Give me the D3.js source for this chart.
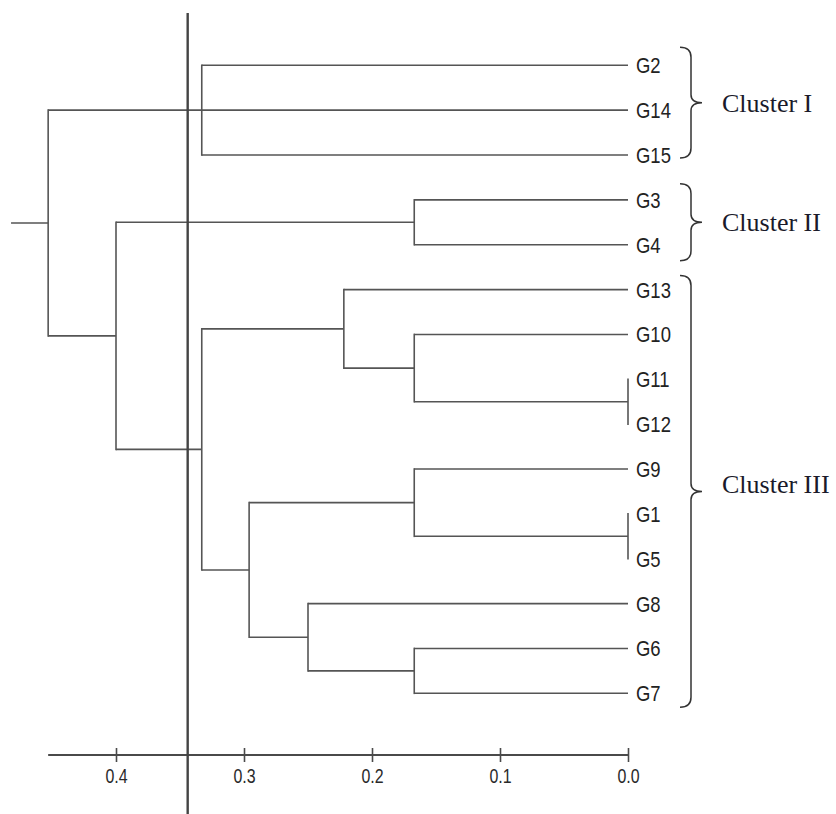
<!DOCTYPE html>
<html>
<head>
<meta charset="utf-8">
<script src="https://cdn.jsdelivr.net/npm/d3@7"></script>
<style>
  html, body { margin: 0; padding: 0; background: #fff; }
  svg { display: block; }
</style>
</head>
<body>
<svg id="chart" width="836" height="814"></svg>
<script>
// ---- data ----
const leaves = ["G2","G14","G15","G3","G4","G13","G10","G11","G12","G9","G1","G5","G8","G6","G7"];
// [node id, merge height (distance), children]
const merges = [
  ["n1", 0.333, ["G2","G14","G15"]],
  ["n2", 0.167, ["G3","G4"]],
  ["n3", 0.0,   ["G11","G12"]],
  ["n4", 0.167, ["G10","n3"]],
  ["n5", 0.222, ["G13","n4"]],
  ["n6", 0.0,   ["G1","G5"]],
  ["n7", 0.167, ["G9","n6"]],
  ["n8", 0.167, ["G6","G7"]],
  ["n9", 0.25,  ["G8","n8"]],
  ["n10", 0.296, ["n7","n9"]],
  ["n11", 0.333, ["n5","n10"]],
  ["n12", 0.4,   ["n2","n11"]],
  ["root", 0.453, ["n1","n12"]]
];
const rootStub = 0.482;
const cutHeight = 0.344;
const tickValues = [0.4, 0.3, 0.2, 0.1, 0.0];
const clusterNames = ["Cluster I", "Cluster II", "Cluster III"];
const clusterFirst = ["G2", "G3", "G13"];
const clusterLast  = ["G15", "G4", "G7"];

// ---- build hierarchy ----
const nodeMap = {};
leaves.forEach(l => nodeMap[l] = { name: l, h: 0 });
merges.forEach(([id, h, ch]) => { nodeMap[id] = { name: id, h: h, children: ch.map(c => nodeMap[c]) }; });
const root = d3.hierarchy(nodeMap["root"]);

// ---- scales ----
const x = d3.scaleLinear().domain([0, 0.4]).range([628, 116]);
const y = d3.scalePoint().domain(leaves).range([65.3, 693.3]);

root.eachAfter(n => {
  if (!n.children) n.y = y(n.data.name);
  else n.y = (n.children[0].y + n.children[n.children.length - 1].y) / 2;
  n.x = x(n.data.h);
});

const svg = d3.select("#chart");
const lineColor = "#555";

const g = svg.append("g");
root.descendants().forEach(n => {
  const px = n.parent ? n.parent.x : x(rootStub);
  if (px !== n.x) {
    g.append("line").attr("x1", px).attr("x2", n.x).attr("y1", n.y).attr("y2", n.y)
      .attr("stroke", lineColor).attr("stroke-width", 1.6);
  }
  if (n.children) {
    g.append("line").attr("x1", n.x).attr("x2", n.x)
      .attr("y1", n.children[0].y).attr("y2", n.children[n.children.length - 1].y)
      .attr("stroke", lineColor).attr("stroke-width", 1.6).attr("stroke-linecap", "square");
  }
});

// leaf labels
root.leaves().forEach(n => {
  svg.append("text")
    .attr("transform", `translate(${n.x + 8},${n.y}) scale(0.84,1)`)
    .attr("dy", "0.36em")
    .attr("font-family", "Liberation Sans, Arial, sans-serif")
    .attr("font-size", 22)
    .attr("fill", "#222")
    .text(n.data.name);
});

// axis
const axisY = 755;
const axisG = svg.append("g").attr("transform", `translate(0,${axisY})`);
axisG.append("line").attr("x1", x(root.data.h)).attr("x2", x(0)).attr("y1", 0).attr("y2", 0)
  .attr("stroke", "#4a4a4a").attr("stroke-width", 2);
const ax = d3.axisBottom(x).tickValues(tickValues).tickFormat(d3.format(".1f")).tickSize(7);
const axCall = axisG.append("g").call(ax);
axCall.select(".domain").remove();
axCall.selectAll(".tick line").attr("y1", -7).attr("y2", 7).attr("stroke", "#4a4a4a").attr("stroke-width", 1.6);
axCall.selectAll(".tick text")
  .attr("y", 0).attr("dy", 0)
  .attr("transform", "translate(0,28) scale(0.76,1)")
  .attr("font-family", "Liberation Sans, Arial, sans-serif")
  .attr("font-size", 21)
  .attr("fill", "#2a2a2a");

// cut line
svg.append("line").attr("x1", x(cutHeight)).attr("x2", x(cutHeight)).attr("y1", 13).attr("y2", 814)
  .attr("stroke", "#444").attr("stroke-width", 2.4);

// braces
const bracePad = [[-18, 3], [-16, 16], [-14, 14]];
const textShift = [1, 0, -7];
clusterNames.forEach((name, i) => {
  const t = y(clusterFirst[i]) + bracePad[i][0];
  const b = y(clusterLast[i]) + bracePad[i][1];
  const m = (t + b) / 2;
  const x0 = 680, xv = 691, xp = 702, r = 10;
  const p = d3.path();
  p.moveTo(x0, t);
  p.quadraticCurveTo(xv, t, xv, t + r);
  p.lineTo(xv, m - 8);
  p.quadraticCurveTo(xv, m, xp, m);
  p.quadraticCurveTo(xv, m, xv, m + 8);
  p.lineTo(xv, b - r);
  p.quadraticCurveTo(xv, b, x0, b);
  svg.append("path").attr("d", p.toString()).attr("fill", "none")
    .attr("stroke", "#333").attr("stroke-width", 1.5);
  svg.append("text")
    .attr("x", 722).attr("y", m + textShift[i]).attr("dy", "0.33em")
    .attr("font-family", "Liberation Serif, Times New Roman, serif")
    .attr("font-size", 26)
    .attr("fill", "#1a1a2a")
    .text(name);
});
</script>
</body>
</html>
